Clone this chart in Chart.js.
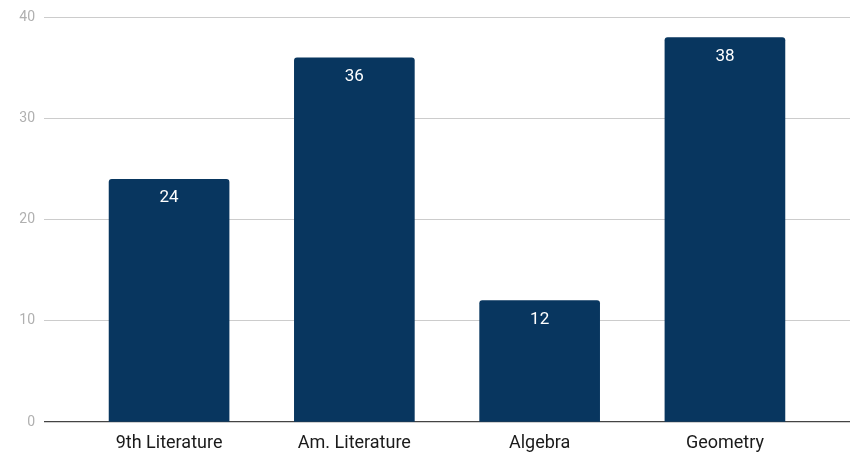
<!DOCTYPE html>
<html>
<head>
<meta charset="utf-8">
<script src="https://cdn.jsdelivr.net/npm/chart.js@4"></script>
<style>
html,body{margin:0;padding:0;background:#fff;}
#wrap{width:858px;height:452px;position:relative;}
</style>
</head>
<body>
<div id="wrap"><canvas id="c"></canvas></div>
<script>
const categories = ["9th Literature", "Am. Literature", "Algebra", "Geometry"];
const values = [24, 36, 12, 38];
const yTicks = [0, 10, 20, 30, 40];

const points = values.map((v, i) => ({x: i, y: v}));

const labelPlugin = {
  id: 'barLabels',
  afterDatasetsDraw(chart) {
    const ctx = chart.ctx;
    const meta = chart.getDatasetMeta(0);
    ctx.save();
    ctx.fillStyle = '#ffffff';
    ctx.font = '17px Roboto';
    ctx.textAlign = 'center';
    ctx.textBaseline = 'middle';
    meta.data.forEach((bar, i) => {
      ctx.fillText(String(values[i]), bar.x, bar.y + 19);
    });
    ctx.restore();
  }
};

new Chart(document.getElementById('c'), {
  type: 'bar',
  data: {
    datasets: [{
      data: points,
      backgroundColor: '#08365f',
      borderRadius: {topLeft: 3, topRight: 3},
      borderSkipped: 'bottom',
      barThickness: 120
    }]
  },
  options: {
    responsive: true,
    maintainAspectRatio: false,
    animation: false,
    layout: {padding: {top: 16, right: 8, left: 0, bottom: 0}},
    plugins: {legend: {display: false}, tooltip: {enabled: false}},
    scales: {
      x: {
        type: 'linear',
        offset: false,
        min: -0.675,
        max: 3.675,
        afterBuildTicks(scale) { scale.ticks = categories.map((c, i) => ({value: i})); },
        afterFit(scale) { scale.height = 30; },
        grid: {display: false, offset: false},
        border: {display: false},
        ticks: {
          autoSkip: false,
          maxRotation: 0,
          padding: 3,
          color: '#1a1a1a',
          font: {family: 'Roboto', size: 18},
          callback: (v) => categories[v] ?? ''
        }
      },
      y: {
        min: 0,
        max: 40,
        afterBuildTicks(scale) { scale.ticks = yTicks.map(v => ({value: v})); },
        afterFit(scale) { scale.width = 44; },
        border: {display: false},
        grid: {
          drawTicks: false,
          color: (ctx) => ctx.tick && ctx.tick.value === 0 ? '#444444' : '#cccccc',
          lineWidth: (ctx) => ctx.tick && ctx.tick.value === 0 ? 1.3 : 1
        },
        ticks: {
          padding: 9,
          color: '#b0b0b0',
          font: {family: 'Roboto', size: 14}
        }
      }
    }
  },
  plugins: [labelPlugin]
});
</script>
</body>
</html>
